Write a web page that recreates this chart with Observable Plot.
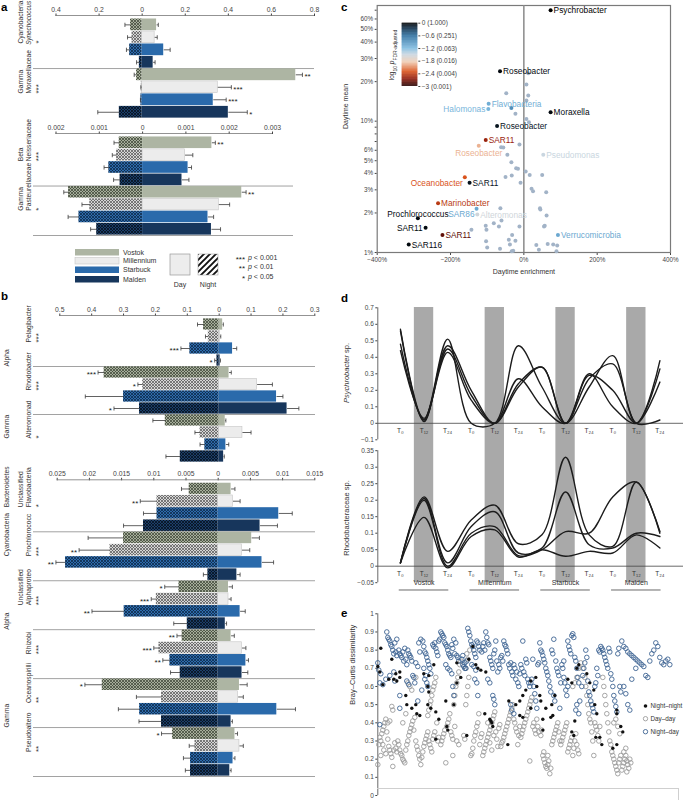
<!DOCTYPE html>
<html>
<head>
<meta charset="utf-8">
<script src="https://cdn.jsdelivr.net/npm/d3@7"></script>
<script src="https://cdn.jsdelivr.net/npm/@observablehq/plot@0.6"></script>
<style>
  html, body { margin: 0; padding: 0; background: #fff; }
  #fig { position: relative; width: 685px; height: 800px; overflow: hidden;
         font-family: "Liberation Sans", Arial, Helvetica, sans-serif; color: #333; }
  .rot { position: absolute; transform: translate(-50%, -50%) rotate(-90deg); white-space: nowrap; color: #333; }
</style>
</head>
<body>
<div id="fig"></div>
<script>
// ---------------- DATA ----------------
const sites = ["Vostok", "Millennium", "Starbuck", "Malden"];

// Panel a (top: Synechococcus, Moraxellaceae; bottom: Neisseriaceae, Pasteurellaceae)
const aTopTaxa = ["Synechococcus", "Moraxellaceae"];
const aTopClass = ["Cyanobacteria", "Gamma"];
const aTopGroupSig = ["*", "***"];
const aTopDay = [[0.067, 0.058, 0.10, 0.051], [0.713, 0.351, 0.33, 0.40]];
const aTopDayErr = [[0.008, 0.012, 0.03, 0.009], [0.031, 0.063, 0.06, 0.088]];
const aTopNight = [[0.054, 0.047, 0.058, 0.013], [0.026, 0.004, 0.006, 0.106]];
const aTopNightErr = [[0.026, 0.021, 0.015, 0.013], [0.011, 0.002, 0.002, 0.10]];
const aTopDaySig = [["", "", "", ""], ["**", "***", "***", "*"]];
const aTopNightSig = [["", "", "", ""], ["", "", "", ""]];
const aTopTicks = [-0.4, -0.2, 0, 0.2, 0.4, 0.6, 0.8];

const aBotTaxa = ["Neisseriaceae", "Pasteurellaceae"];
const aBotClass = ["Beta", "Gamma"];
const aBotGroupSig = ["***", "*"];
const aBotDay = [[0.0016, 0.00098, 0.00105, 0.00091], [0.00229, 0.00176, 0.00151, 0.00159]];
const aBotDayErr = [[0.00008, 0.00018, 0.00008, 0.00016], [0.0001, 0.00025, 0.00013, 0.00021]];
const aBotNight = [[0.00054, 0.0006, 0.00078, 0.00052], [0.00171, 0.00122, 0.00147, 0.00106]];
const aBotNightErr = [[0.00012, 0.0001, 0.00011, 0.00015], [0.00011, 0.00018, 0.00025, 0.00014]];
const aBotDaySig = [["**", "", "", ""], ["**", "", "", ""]];
const aBotNightSig = [["", "", "", ""], ["", "", "", ""]];
const aBotTicks = [-0.002, -0.001, 0, 0.001, 0.002, 0.003];

// Panel b top
const bTopTaxa = ["Pelagibacter", "Rhodobacter", "Alteromonad"];
const bTopClass = ["Alpha", "Alpha", "Gamma"];
const bTopGroupSig = ["***", "***", "*"];
const bTopDay = [[0.011, 0.003, 0.042, 0.003], [0.031, 0.119, 0.18, 0.213], [0.019, 0.073, 0.021, 0.014]];
const bTopDayErr = [[0.002, 0.002, 0.013, 0.001], [0.007, 0.048, 0.02, 0.037], [0.002, 0.027, 0.009, 0.002]];
const bTopNight = [[0.049, 0.034, 0.092, 0.007], [0.361, 0.24, 0.30, 0.25], [0.169, 0.06, 0.045, 0.122]];
const bTopNightErr = [[0.019, 0.009, 0.028, 0.007], [0.019, 0.015, 0.12, 0.08], [0.039, 0.016, 0.015, 0.045]];
const bTopDaySig = [["", "", "", ""], ["", "", "", ""], ["", "", "", ""]];
const bTopNightSig = [["", "", "***", "*"], ["***", "*", "", "*"], ["", "", "", ""]];
const bTopTicks = [-0.5, -0.4, -0.3, -0.2, -0.1, 0, 0.1, 0.2, 0.3];

// Panel b bottom
const bBotLine1 = ["Unclassified", "", "Unclassified", "", "", ""];
const bBotTaxa = ["Flavobacteria", "Prochlorococc", "Alphaproteo", "Rhizobi", "Oceanospirilli", "Pseudoaltero"];
const bBotClass = ["Bacteroidetes", "Cyanobacteria", "Alpha", "Alpha", "Gamma", "Gamma"];
const bBotGroupSig = ["*", "***", "***", "***", "**", "**"];
const bBotDay = [[0.002, 0.0023, 0.0094, 0.0065], [0.0052, 0.0037, 0.0068, 0.0029], [0.0016, 0.0016, 0.0034, 0.0011],
                 [0.002, 0.0037, 0.0043, 0.0037], [0.0033, 0.0031, 0.0091, 0.002], [0.0026, 0.0033, 0.0023, 0.0018]];
const bBotDayErr = [[0.0006, 0.0011, 0.0021, 0.0027], [0.0012, 0.0012, 0.0018, 0.0005], [0.0006, 0.0004, 0.0008, 0.0002],
                    [0.0005, 0.0006, 0.0004, 0.0009], [0.0012, 0.0008, 0.0029, 0.0002], [0.0004, 0.0006, 0.0003, 0.0002]];
const bBotNight = [[0.0045, 0.0095, 0.0095, 0.0116], [0.0147, 0.0168, 0.0237, 0.0016], [0.0061, 0.0096, 0.0146, 0.0048],
                   [0.0056, 0.0092, 0.0075, 0.0059], [0.018, 0.0088, 0.0122, 0.0088], [0.0071, 0.0036, 0.0043, 0.0043]];
const bBotNightErr = [[0.0012, 0.0026, 0.0021, 0.0031], [0.0055, 0.0048, 0.0015, 0.0007], [0.0022, 0.0008, 0.005, 0.0021],
                      [0.0008, 0.0008, 0.0011, 0.0015], [0.0027, 0.0039, 0.0033, 0.0035], [0.0017, 0.0009, 0.0011, 0.0008]];
const bBotDaySig = [["", "", "", ""], ["", "", "", ""], ["", "", "", ""], ["", "", "", ""], ["", "", "", ""], ["", "", "", ""]];
const bBotNightSig = [["", "**", "", ""], ["", "**", "**", ""], ["*", "***", "**", ""], ["**", "***", "**", ""], ["*", "", "", ""], ["*", "", "", ""]];
const bBotTicks = [-0.025, -0.02, -0.015, -0.01, -0.005, 0, 0.005, 0.01, 0.015];

// Panel c
const cNames = ["Psychrobacter", "Roseobacter", "Flavobacteria", "Halomonas", "Moraxella", "Roseobacter", "SAR11", "Roseobacter",
  "Pseudomonas", "Oceanobacter", "SAR11", "Marinobacter", "SAR86", "Prochlorococcus", "Alteromonas", "SAR11", "SAR11", "SAR116", "Verrucomicrobia", ""];
const cEnrich = [73, -65, -96, -97, 73, -73, -104, -123, 53, -161, -148, -234, -129, -289, -127, -268, -222, -314, 93, -34];
const cMean = [70, 24, 13.6, 12.4, 11.7, 9.2, 7.2, 6.5, 5.55, 3.74, 3.4, 2.37, 2.15, 1.82, 1.95, 1.54, 1.36, 1.15, 1.36, 12.6];
const cLogP = [0, -0.05, -1.1, -1.15, -0.05, -0.1, -2.6, -1.95, -1.5, -2.3, -0.1, -2.45, -1.05, -0.05, -1.55, -0.05, -2.8, -0.05, -1.05, -0.85];
const cPlace = ["right", "right", "right", "left", "right", "right", "right", "below", "right", "leftbelow", "right", "right",
  "leftbelow", "above", "right", "left", "right", "right", "right", "none"];
const cOther = [[-48, 16.3], [7, 19], [12, 15.7], [7, 14.4], [-23, 11.4], [14, 9.8], [7, 10.4], [-12, 6.65], [-62, 6.34], [-56, 6.3],
  [-45, 5.55], [-34, 4.87], [-21, 4.39], [-16, 4.35], [5, 4.14], [16, 3.9], [50, 3.9], [-50, 3.75], [-33, 3.85], [-9, 3.4], [21, 3.06],
  [25, 2.93], [61, 2.88], [-64, 2.17], [44, 2.17], [45, 2.13], [-61, 1.75], [-82, 1.67], [-104, 1.6], [-68, 1.58], [-102, 1.49],
  [-143, 1.49], [-12, 1.58], [62, 1.91], [55, 1.58], [57, 1.6], [-32, 1.36], [-103, 1.22], [-41, 1.25], [-23, 1.23], [-38, 1.15],
  [-100, 1.09], [-65, 1.07], [-33, 1.02], [-29, 1.03], [34, 1.14], [41, 1.05], [65, 1.16], [80, 1.15], [91, 1.13], [89, 1.02], [12, 23.2]];
const cXTicks = [-400, -200, 0, 200, 400];
const cYTicks = [1, 2, 3, 4, 5, 6, 7, 8, 9, 10, 20, 30, 40, 50, 60, 70];
const cColorDomain = [-3, -2.65, -2.3, -1.85, -1.5, -1.2, -0.6, -0.25, 0];
const cColorRange = ["#220000", "#8e1b0c", "#d9531c", "#f0cdb4", "#c9d6e0", "#7fbbe0", "#2d6e9e", "#0f2f4a", "#000000"];
const cbTicks = [0, -0.6, -1.2, -1.8, -2.4, -3];

// Panel d
const dTimes = ["T₀", "T₁₂", "T₂₄", "T₀", "T₁₂", "T₂₄", "T₀", "T₁₂", "T₂₄", "T₀", "T₁₂", "T₂₄"];
const dPsychro = [
  [0.57, 0.02, 0.51, 0.00, 0.00, 0.47, 0.22, 0.00, 0.30, 0.10, 0.00, 0.38],
  [0.56, 0.01, 0.47, 0.20, 0.00, 0.27, 0.10, 0.00, 0.29, 0.20, 0.00, 0.33],
  [0.48, 0.02, 0.45, 0.17, 0.00, 0.24, 0.34, 0.00, 0.27, 0.36, 0.00, 0.25],
  [0.44, 0.03, 0.43, 0.14, 0.00, 0.22, 0.34, 0.00, 0.22, 0.41, 0.00, 0.02]];
const dRhodo = [
  [0.01, 0.21, 0.045, 0.14, 0.185, 0.068, 0.095, 0.33, 0.095, 0.06, 0.255, 0.105],
  [0.01, 0.205, 0.01, 0.12, 0.165, 0.04, 0.055, 0.225, 0.065, 0.055, 0.10, 0.09],
  [0.01, 0.20, 0.00, 0.10, 0.12, 0.032, 0.05, 0.105, 0.10, 0.21, 0.255, 0.10],
  [0.01, 0.148, -0.005, 0.09, 0.11, 0.028, 0.05, 0.03, 0.045, 0.04, 0.095, 0.055]];
const dUpTicks = [-0.1, 0, 0.1, 0.2, 0.3, 0.4, 0.5, 0.6, 0.7];
const dLoTicks = [-0.05, 0, 0.05, 0.1, 0.15, 0.2, 0.25, 0.3, 0.35];

// Panel e  [comparison index, Bray–Curtis dissimilarity]
const eNightDay = [
[0,0.73],[1,0.69],[2,0.62],[3,0.67],[2,0.39],[5,0.61],[8,0.64],[9,0.9],[10,0.87],[11,0.86],[12,0.85],[13,0.83],[14,0.82],[15,0.8],[16,0.78],[17,0.84],[18,0.79],[19,0.77],[16,0.68],[12,0.66],[17,0.63],[19,0.86],
[21,0.8],[22,0.78],[23,0.77],[24,0.76],[25,0.79],[26,0.74],[27,0.81],[28,0.75],[29,0.72],[30,0.8],[31,0.78],[32,0.77],[33,0.76],[34,0.74],[22,0.55],[22,0.48],[29,0.63],[31,0.61],[36,0.65],[38,0.73],[40,0.71],[42,0.79],[41,0.84],[43,0.86],[35,0.66],[37,0.62],
[45,0.85],[46,0.82],[47,0.79],[48,0.78],[49,0.76],[50,0.74],[51,0.72],[52,0.7],[53,0.67],[48,0.66],[47,0.64],[49,0.62],[50,0.6],[55,0.83],[56,0.82],[57,0.84],[58,0.81],[59,0.79],[60,0.77],[61,0.85],[62,0.86],[46,0.7],[44,0.58],[40,0.52],
[63,0.9],[64,0.89],[65,0.88],[66,0.87],[67,0.84],[68,0.83],[69,0.82],[70,0.8],[71,0.78],[72,0.77],[73,0.76],[74,0.83],[75,0.81],[76,0.86],[77,0.78],[78,0.84],[79,0.77],[80,0.76],[68,0.72],[70,0.7],[72,0.69],[74,0.67],[75,0.6],[76,0.55],[81,0.74],
[84,0.75],[85,0.77],[86,0.71],[87,0.73],[88,0.7],[89,0.74],[90,0.92],[91,0.9],[92,0.88],[93,0.85],[94,0.83],[95,0.82],[96,0.8],[97,0.78],[98,0.76],[99,0.85],[100,0.84],[101,0.82],[102,0.8],[94,0.72],[96,0.71],[98,0.69],[97,0.64],[99,0.62],[100,0.55],[85,0.72],[87,0.7],
[104,0.79],[105,0.82],[106,0.84],[107,0.8],[108,0.9],[109,0.87],[110,0.84],[111,0.83],[112,0.76],[113,0.74],[114,0.72],[115,0.7],[116,0.78],[117,0.8],[118,0.85],[119,0.74],[120,0.68],[121,0.72],[122,0.7],[110,0.64],[112,0.62],[115,0.55],[116,0.53],[117,0.5],
[123,0.76],[124,0.77],[125,0.74],[126,0.85],[127,0.83],[128,0.82],[129,0.8],[130,0.78],[131,0.72],[132,0.7],[133,0.73],[134,0.68],[135,0.66],[136,0.72],[137,0.7],[138,0.64],[139,0.68],[140,0.62],[141,0.6],[133,0.5],[134,0.47],[136,0.45],[142,0.67],
[143,0.72],[144,0.7],[145,0.85],[146,0.68],[147,0.66],[148,0.75],[149,0.73],[150,0.64],[151,0.62],[152,0.6],[153,0.62],[154,0.64],[155,0.75],[156,0.6],[157,0.56],[158,0.52],[159,0.48],[160,0.72],[161,0.73],[162,0.84],[163,0.8],
[164,0.79],[165,0.77],[166,0.75],[167,0.73],[168,0.7],[169,0.68],[170,0.66],[171,0.63],[172,0.6],[173,0.57],[174,0.8],[175,0.78],[176,0.55],[177,0.52],[176,0.86],[178,0.74],[179,0.7],[180,0.68],[181,0.66],[182,0.48],[183,0.62],
[184,0.72],[185,0.7],[186,0.65],[187,0.62],[188,0.58],[189,0.55],[190,0.85],[191,0.82],[192,0.8],[193,0.78],[194,0.88],[195,0.89],[196,0.87],[197,0.76],[198,0.74],[199,0.7],[200,0.65],[201,0.62],[202,0.52],[199,0.5],[198,0.47],[201,0.45],[190,0.6],[186,0.74],
[204,0.6],[205,0.66],[206,0.7],[207,0.73],[208,0.8],[209,0.76],[210,0.63],[211,0.57],[212,0.55],[213,0.52],[214,0.5],[215,0.48],[216,0.46],[217,0.6],[218,0.62],[219,0.7],[220,0.66],[221,0.8],[222,0.79],
[223,0.82],[224,0.81],[225,0.8],[226,0.78],[227,0.76],[228,0.74],[229,0.72],[230,0.7],[231,0.81],[232,0.79],[233,0.67],[234,0.64],[235,0.6],[236,0.55],[237,0.52],[238,0.49],[239,0.46],[240,0.78],[241,0.81],[242,0.6],[243,0.57],
[244,0.85],[246,0.82],[248,0.81],[250,0.79],[252,0.78],[254,0.77],[256,0.76],[258,0.75],[260,0.74],[262,0.73],[264,0.72],[266,0.71],[268,0.66],[270,0.65],[272,0.74],[274,0.78],[276,0.8],[278,0.84],[280,0.82],[282,0.76],[284,0.73],[286,0.72],[288,0.74],[290,0.75],[292,0.72],[246,0.6],[248,0.56],[250,0.5],[252,0.47],[254,0.64],[258,0.7]];
const eDayDay = [
[0,0.17],[1,0.28],[2,0.32],[3,0.3],[4,0.34],[5,0.36],[6,0.38],[7,0.4],[8,0.42],[9,0.35],[10,0.31],[11,0.27],[12,0.25],[13,0.23],[14,0.21],[15,0.16],[14,0.49],[15,0.47],[16,0.25],[17,0.29],[18,0.26],[19,0.24],[6,0.25],[8,0.23],[10,0.4],[12,0.41],[3,0.22],[5,0.28],
[20,0.3],[21,0.28],[22,0.25],[23,0.23],[24,0.22],[25,0.2],[26,0.19],[27,0.18],[28,0.25],[29,0.28],[30,0.3],[31,0.33],[32,0.35],[33,0.37],[34,0.39],[35,0.41],[36,0.36],[37,0.43],[38,0.3],[39,0.27],[40,0.25],[41,0.22],[42,0.2],[30,0.62],[32,0.6],[34,0.58],[28,0.45],[25,0.4],[38,0.65],
[43,0.17],[44,0.21],[45,0.24],[46,0.27],[47,0.29],[48,0.31],[49,0.33],[50,0.35],[51,0.3],[52,0.28],[53,0.26],[54,0.24],[55,0.31],[56,0.33],[57,0.35],[50,0.44],[51,0.47],[52,0.5],[53,0.52],[54,0.55],[55,0.58],[56,0.6],[57,0.62],[58,0.65],[60,0.3],[61,0.32],[59,0.4],
[68,0.18],[63,0.28],[64,0.3],[65,0.32],[66,0.34],[67,0.36],[69,0.38],[70,0.4],[71,0.42],[72,0.45],[73,0.35],[74,0.33],[75,0.31],[76,0.5],[77,0.55],[78,0.6],[79,0.62],[80,0.65],[81,0.68],[82,0.72],[83,0.74],[79,0.3],[81,0.28],[77,0.38],[75,0.22],
[93,0.22],[94,0.23],[95,0.26],[96,0.3],[97,0.33],[98,0.35],[99,0.38],[100,0.4],[101,0.45],[88,0.5],[89,0.55],[90,0.6],[91,0.65],[88,0.7],[90,0.75],[89,0.78],[92,0.8],[86,0.33],[87,0.31],[102,0.28],[103,0.32],[104,0.34],
[105,0.22],[106,0.24],[107,0.26],[108,0.28],[109,0.3],[110,0.32],[111,0.34],[112,0.36],[113,0.38],[114,0.4],[115,0.42],[116,0.44],[117,0.46],[118,0.35],[119,0.31],[120,0.27],[121,0.37],[122,0.39],[110,0.4],[112,0.29],[114,0.25],[116,0.33],
[123,0.27],[124,0.29],[125,0.3],[126,0.32],[127,0.34],[128,0.36],[129,0.38],[130,0.4],[131,0.42],[132,0.44],[133,0.46],[134,0.48],[135,0.5],[136,0.42],[137,0.4],[138,0.37],[139,0.35],[140,0.28],[141,0.33],[142,0.38],
[143,0.32],[144,0.34],[145,0.36],[146,0.38],[147,0.4],[148,0.42],[149,0.44],[150,0.46],[151,0.48],[152,0.5],[153,0.52],[154,0.54],[152,0.19],[155,0.38],[156,0.4],[157,0.36],[158,0.34],[159,0.42],[160,0.38],[161,0.35],
[163,0.33],[164,0.36],[165,0.22],[166,0.2],[167,0.18],[168,0.16],[169,0.15],[170,0.17],[171,0.19],[172,0.12],[173,0.15],[174,0.28],[175,0.3],[176,0.32],[177,0.34],[178,0.36],[179,0.38],[180,0.4],[181,0.35],[182,0.3],[166,0.24],[170,0.22],
[183,0.28],[184,0.3],[185,0.32],[186,0.34],[187,0.36],[188,0.38],[189,0.4],[190,0.24],[191,0.26],[192,0.28],[193,0.3],[194,0.32],[195,0.22],[196,0.26],[197,0.3],[198,0.34],[199,0.28],[200,0.25],[201,0.23],[195,0.6],[197,0.62],[199,0.65],[201,0.7],
[203,0.73],[205,0.7],[207,0.65],[208,0.6],[209,0.55],[210,0.5],[211,0.45],[212,0.42],[213,0.4],[214,0.35],[215,0.3],[216,0.22],[217,0.4],[218,0.38],[219,0.36],[220,0.33],[221,0.3],[222,0.38],
[225,0.65],[226,0.6],[227,0.55],[228,0.5],[229,0.45],[230,0.4],[231,0.35],[232,0.3],[233,0.28],[234,0.24],[235,0.22],[236,0.2],[237,0.18],[238,0.16],[239,0.14],[240,0.12],[241,0.18],[242,0.2],[236,0.4],[238,0.42],[240,0.38],[242,0.34],[243,0.22],
[244,0.14],[245,0.16],[246,0.18],[247,0.2],[248,0.22],[249,0.19],[250,0.17],[251,0.15],[249,0.13],[252,0.2],[253,0.18],[246,0.24],[248,0.26]];
const eNightNight = [
[0,0.71],[2,0.68],[5,0.61],[3,0.81],[11,0.64],[14,0.75],[16,0.64],[18,0.67],[19,0.63],[22,0.65],[22,0.68],[28,0.55],[29,0.5],[34,0.48],[39,0.45],[38,0.5],[42,0.44],
[46,0.67],[50,0.6],[51,0.66],[51,0.57],[50,0.5],[53,0.48],[56,0.72],[58,0.46],[61,0.42],[58,0.31],[68,0.52],[69,0.38],[70,0.36],[76,0.5],[79,0.62],[83,0.65],[79,0.73],
[89,0.33],[91,0.75],[95,0.82],[98,0.72],[100,0.7],[103,0.69],[108,0.68],[107,0.45],[112,0.42],[113,0.41],[114,0.4],[115,0.38],[130,0.28],[131,0.52],[138,0.5],[142,0.52],
[145,0.55],[148,0.58],[142,0.44],[145,0.43],[153,0.63],[153,0.48],[158,0.65],[159,0.6],[162,0.55],[163,0.52],[165,0.42],[165,0.36],[168,0.48],[173,0.43],[175,0.44],[174,0.5],
[177,0.55],[190,0.64],[194,0.62],[197,0.41],[199,0.7],[201,0.72],[194,0.35],[196,0.33],[209,0.67],[212,0.62],[216,0.58],[217,0.5],[219,0.45],[218,0.32],[224,0.28],[222,0.32],
[239,0.47],[239,0.45],[245,0.35],[243,0.38],[235,0.26],[239,0.28]];
const eTicks = [0, 0.1, 0.2, 0.3, 0.4, 0.5, 0.6, 0.7, 0.8, 0.9, 1];
const eSeries = ["Night–night", "Day–day", "Night–day"];

// ---------------- STYLES ----------------
const FONT = "Liberation Sans, Arial, Helvetica, sans-serif";
const dayColors = ["#adb5a3", "#ececec", "#2a6aab", "#17365c"];
const dayStroke = ["none", "#c6c6c6", "none", "none"];
const nightLight = ["#a6ae9b", "#d6d6d6", "#2e6bab", "#1c3e68"];
const nightDark = ["#3e4537", "#585858", "#0b2746", "#040d19"];

const fig = document.getElementById("fig");
function put(el, left, top) {
  el.style.position = "absolute"; el.style.left = left + "px"; el.style.top = top + "px";
  fig.appendChild(el); return el;
}
function baseStyle(size) {
  return {background: "transparent", overflow: "visible", fontFamily: FONT, fontSize: size + "px", color: "#444"};
}
function rotLabel(html, cx, cy, size) {
  const d = document.createElement("div");
  d.className = "rot"; d.innerHTML = html;
  d.style.fontSize = size + "px";
  fig.appendChild(d);
  d.style.left = cx + "px"; d.style.top = cy + "px";
  return d;
}
const fmtAbs = d => { const a = Math.abs(d); return a === 0 ? "0" : String(+a.toPrecision(6)); };
const fmtSigned = d => d === 0 ? "0" : (d < 0 ? "−" : "") + String(+Math.abs(d).toPrecision(6));

// hatch patterns
const defs = d3.select("body").insert("svg", ":first-child")
  .attr("width", 0).attr("height", 0).style("position", "absolute").append("defs");
sites.forEach((s, i) => {
  const p = defs.append("pattern").attr("id", "hatch" + i).attr("patternUnits", "userSpaceOnUse")
    .attr("width", 3).attr("height", 3);
  p.append("rect").attr("width", 3).attr("height", 3).attr("fill", nightLight[i]);
  p.append("path").attr("d", "M0,0L3,3M-1,2L1,4M2,-1L4,1M0,3L3,0M-1,1L1,-1M2,4L4,2")
    .attr("stroke", nightDark[i]).attr("stroke-width", 0.75);
});
{
  const p = defs.append("pattern").attr("id", "hatchBold").attr("patternUnits", "userSpaceOnUse")
    .attr("width", 6).attr("height", 6);
  p.append("rect").attr("width", 6).attr("height", 6).attr("fill", "#fff");
  p.append("path").attr("d", "M-2,2L2,-2M0,6L6,0M4,8L8,4").attr("stroke", "#111").attr("stroke-width", 1.9);
}

// ---------------- BAR SECTIONS (a, b) ----------------
const Y_TOP = -0.25;
const FRAME_L = 33;
function barSection(o) {
  const nT = o.taxa.length, nRows = nT * 4;
  const rows = [];
  o.taxa.forEach((t, ti) => sites.forEach((s, si) => rows.push({
    ti, si, row: ti * 4 + si,
    day: o.day[ti][si], dayEnd: o.day[ti][si] + o.dayErr[ti][si],
    night: -o.night[ti][si], nightEnd: -(o.night[ti][si] + o.nightErr[ti][si]),
    dSig: o.daySig[ti][si], nSig: o.nightSig[ti][si]
  })));
  const mid = r => r.row + 0.5;
  const seps = d3.range(1, nT).map(i => i * 4);
  if (o.bottomLine) seps.push(nRows);
  const groups = o.taxa.map((t, i) => ({i, y: i * 4 + 2}));
  const marks = [
    Plot.ruleY(seps, {stroke: "#a2a2a2", strokeWidth: 1}),
    Plot.ruleY([Y_TOP], {x1: o.ticks[0], x2: o.ticks[o.ticks.length - 1], stroke: "#777", strokeWidth: 0.8})
  ];
  sites.forEach((s, si) => {
    const sub = rows.filter(r => r.si === si);
    marks.push(Plot.rect(sub, {x1: "night", x2: 0, y1: r => r.row + 0.03, y2: r => r.row + 0.97, fill: `url(#hatch${si})`}));
    marks.push(Plot.rect(sub, {x1: 0, x2: "day", y1: r => r.row + 0.03, y2: r => r.row + 0.97,
      fill: dayColors[si], stroke: dayStroke[si], strokeWidth: 0.6}));
  });
  const eb = {stroke: "#3a3a3a", strokeWidth: 0.8};
  marks.push(Plot.link(rows, {x1: "day", x2: "dayEnd", y1: mid, y2: mid, ...eb}));
  marks.push(Plot.link(rows, {x1: "dayEnd", x2: "dayEnd", y1: r => mid(r) - 0.17, y2: r => mid(r) + 0.17, ...eb}));
  marks.push(Plot.link(rows, {x1: "night", x2: "nightEnd", y1: mid, y2: mid, ...eb}));
  marks.push(Plot.link(rows, {x1: "nightEnd", x2: "nightEnd", y1: r => mid(r) - 0.17, y2: r => mid(r) + 0.17, ...eb}));
  marks.push(Plot.text(rows.filter(r => r.dSig), {x: "dayEnd", y: mid, text: "dSig", textAnchor: "start", dx: 2, dy: 2, fontSize: 8, fill: "#222"}));
  marks.push(Plot.text(rows.filter(r => r.nSig), {x: "nightEnd", y: mid, text: "nSig", textAnchor: "end", dx: -2, dy: 2, fontSize: 8, fill: "#222"}));
  // left labels
  const lab = {frameAnchor: "left", rotate: -90, fontSize: 6.7, fill: "#333"};
  marks.push(Plot.text(groups.filter(g => o.line1[g.i]), {y: "y", text: g => o.line1[g.i], dx: 20 - FRAME_L, ...lab}));
  marks.push(Plot.text(groups.filter(g => !o.italic[g.i]), {y: "y", text: g => o.taxa[g.i], dx: 28.5 - FRAME_L, ...lab}));
  marks.push(Plot.text(groups.filter(g => o.italic[g.i]), {y: g => g.y + 0.1, text: g => o.taxa[g.i], dx: 28.5 - FRAME_L, fontStyle: "italic", ...lab, fontSize: 6.3}));
  marks.push(Plot.text(groups, {y: "y", text: g => o.groupSig[g.i], dx: 38 - FRAME_L, ...lab, fontSize: 8}));
  if (o.phyla) {
    const spans = [];
    o.phyla.forEach((p, i) => {
      if (spans.length && spans[spans.length - 1].name === p) spans[spans.length - 1].to = i;
      else spans.push({name: p, from: i, to: i});
    });
    marks.push(Plot.text(spans, {y: d => (d.from * 4 + (d.to + 1) * 4) / 2, text: "name", dx: 6 - FRAME_L, ...lab}));
  }
  const height = o.barsBottom - o.svgTop + 4;
  const plot = Plot.plot({
    width: 340, height,
    marginTop: o.axisY - o.svgTop, marginBottom: 4, marginLeft: FRAME_L, marginRight: 340 - o.frameRight,
    x: {domain: [o.ticks[0], o.ticks[o.ticks.length - 1]], range: [o.rangeL, o.rangeR], axis: "top",
        ticks: o.ticks, tickFormat: fmtAbs, tickSize: 2.5, tickPadding: 1.5, label: null},
    y: {domain: [Y_TOP, nRows], reverse: true, axis: null},
    style: baseStyle(6.8),
    marks
  });
  put(plot, 0, o.svgTop);
}

barSection({taxa: aTopTaxa, line1: aTopClass, italic: [true, false], groupSig: aTopGroupSig,
  day: aTopDay, dayErr: aTopDayErr, night: aTopNight, nightErr: aTopNightErr, daySig: aTopDaySig, nightSig: aTopNightSig,
  ticks: aTopTicks, svgTop: 0, axisY: 15, barsBottom: 118, frameRight: 314, rangeL: 55.5, rangeR: 314, bottomLine: false});
barSection({taxa: aBotTaxa, line1: aBotClass, italic: [false, false], groupSig: aBotGroupSig,
  day: aBotDay, dayErr: aBotDayErr, night: aBotNight, nightErr: aBotNightErr, daySig: aBotDaySig, nightSig: aBotNightSig,
  ticks: aBotTicks, svgTop: 118, axisY: 133, barsBottom: 235, frameRight: 293, rangeL: 55.5, rangeR: 272, bottomLine: true});
barSection({taxa: bTopTaxa, line1: ["", "", ""], phyla: bTopClass, italic: [false, false, false], groupSig: bTopGroupSig,
  day: bTopDay, dayErr: bTopDayErr, night: bTopNight, nightErr: bTopNightErr, daySig: bTopDaySig, nightSig: bTopNightSig,
  ticks: bTopTicks, svgTop: 292, axisY: 315, barsBottom: 462, frameRight: 315, rangeL: 59.3, rangeR: 314.3, bottomLine: false});
barSection({taxa: bBotTaxa, line1: bBotLine1, phyla: bBotClass, italic: [false, false, false, false, false, false], groupSig: bBotGroupSig,
  day: bBotDay, dayErr: bBotDayErr, night: bBotNight, nightErr: bBotNightErr, daySig: bBotDaySig, nightSig: bBotNightSig,
  ticks: bBotTicks, svgTop: 462, axisY: 479.3, barsBottom: 776, frameRight: 315, rangeL: 56.7, rangeR: 314.3, bottomLine: true});

// legend for panel a
{
  const svg = d3.create("svg").attr("width", 240).attr("height", 50)
    .style("overflow", "visible").style("font-family", FONT).style("font-size", "7px");
  const sy = [7, 15.5, 24.5, 34];
  sites.forEach((s, i) => {
    svg.append("rect").attr("x", 15).attr("y", sy[i]).attr("width", 44).attr("height", 6.5)
      .attr("fill", dayColors[i]).attr("stroke", i === 1 ? "#c6c6c6" : "none").attr("stroke-width", 0.6);
    svg.append("text").attr("x", 63).attr("y", sy[i] + 5.5).attr("fill", "#333").text(s);
  });
  svg.append("rect").attr("x", 110).attr("y", 12).attr("width", 20).attr("height", 21)
    .attr("fill", "#ededed").attr("stroke", "#999").attr("stroke-width", 0.7);
  svg.append("text").attr("x", 120).attr("y", 45).attr("text-anchor", "middle").attr("fill", "#333").text("Day");
  svg.append("rect").attr("x", 138).attr("y", 12).attr("width", 20).attr("height", 21)
    .attr("fill", "url(#hatchBold)").attr("stroke", "#999").attr("stroke-width", 0.5);
  svg.append("text").attr("x", 148).attr("y", 45).attr("text-anchor", "middle").attr("fill", "#333").text("Night");
  const stars = ["***", "**", "*"], pv = ["0.001", "0.01", "0.05"], yy = [17.5, 27, 36.5];
  stars.forEach((st, i) => {
    svg.append("text").attr("x", 185).attr("y", yy[i] + 2).attr("text-anchor", "end").attr("font-size", 8).attr("fill", "#222").text(st);
    const t = svg.append("text").attr("x", 188).attr("y", yy[i]).attr("fill", "#333");
    t.append("tspan").attr("font-style", "italic").text("p");
    t.append("tspan").text(" < " + pv[i]);
  });
  put(svg.node(), 60, 242);
}

// ---------------- PANEL c ----------------
const colorOpts = {type: "linear", domain: cColorDomain, range: cColorRange, interpolate: "rgb"};
{
  const lab = cNames.map((n, i) => ({name: n, x: cEnrich[i], y: cMean[i], p: cLogP[i], place: cPlace[i]}));
  const placeOpts = {
    right: {textAnchor: "start", dx: 3, dy: 0.5},
    left: {textAnchor: "end", dx: -3, dy: 0.5},
    below: {textAnchor: "middle", dx: 0, dy: 8},
    above: {textAnchor: "middle", dx: 0, dy: -4},
    leftbelow: {textAnchor: "end", dx: -2, dy: 6}
  };
  const marks = [
    Plot.frame({stroke: "#7a7a7a", strokeWidth: 1.2}),
    Plot.ruleX([0], {stroke: "#8a8a8a", strokeWidth: 1.5}),
    Plot.dot(cOther, {x: d => d[0], y: d => d[1], r: 2, fill: "#a2b3c7", stroke: "none"}),
    Plot.dot(lab, {x: "x", y: "y", r: 2, fill: "p", stroke: "none"})
  ];
  Object.entries(placeOpts).forEach(([k, po]) => {
    marks.push(Plot.text(lab.filter(d => d.place === k), {x: "x", y: "y", text: "name", fill: "p", fontSize: 8.3, ...po}));
  });
  marks.push(Plot.text(["Daytime mean"], {text: d => d, frameAnchor: "left", dx: -31, rotate: -90, fontSize: 7, fill: "#333"}));
  marks.push(Plot.text(["Daytime enrichment"], {text: d => d, frameAnchor: "bottom", dy: 21, fontSize: 7, fill: "#333"}));
  const plot = Plot.plot({
    width: 345, height: 290, marginLeft: 36.7, marginRight: 15, marginTop: 5, marginBottom: 38,
    x: {domain: [-400, 400], ticks: cXTicks, tickFormat: d => (d < 0 ? "−" : "") + Math.abs(d) + "%", tickSize: 3, tickPadding: 2, label: null},
    y: {type: "log", domain: [1, 76], ticks: cYTicks, tickFormat: d => d + "%", tickSize: 2, tickPadding: 2, label: null},
    color: colorOpts,
    style: baseStyle(6.3),
    marks
  });
  put(plot, 340, 0);
  // colour bar
  const cb = Plot.plot({
    width: 80, height: 75, marginLeft: 6.7, marginRight: 57.7, marginTop: 4.7, marginBottom: 7,
    x: {domain: [0, 1], axis: null},
    y: {domain: [-3, 0], axis: "right", ticks: cbTicks, tickSize: 2, tickPadding: 2, label: null,
        tickFormat: d => (d === 0 ? "0" : "−" + Math.abs(d)) + " (" + Math.pow(10, d).toFixed(3) + ")"},
    color: colorOpts,
    style: baseStyle(6.5),
    marks: [Plot.rect(d3.range(-3, 0, 0.02), {x1: 0, x2: 1, y1: d => d, y2: d => Math.min(0, d + 0.03), fill: d => d + 0.01})]
  });
  put(cb, 395, 18);
  rotLabel("log<sub style='font-size:5px'>10</sub> <i>p</i><sub style='font-size:5px'>FDR-adjusted</sub>", 393, 55, 6.5);
}

// ---------------- PANEL d ----------------
const D_XDOM = [-0.96, 12.0];
{
  const bg = Plot.plot({
    width: 345, height: 310, marginLeft: 37.3, marginRight: 2, marginTop: 17, marginBottom: 18,
    x: {domain: D_XDOM, axis: null}, y: {axis: null},
    style: baseStyle(7),
    marks: [Plot.rect(d3.range(sites.length), {x1: k => 3 * k + 1 - 0.41, x2: k => 3 * k + 1 + 0.41, fill: "#a9a9a9"})]
  });
  put(bg, 340, 290);

  const flat = arr => arr.flatMap((c, k) => c.map((v, i) => ({k, i, v})));
  const common = {width: 345, marginLeft: 37.3, marginRight: 2, x: {domain: D_XDOM, axis: null}, style: baseStyle(6.5)};
  const up = Plot.plot({
    ...common, height: 150, marginTop: 17.3, marginBottom: 0.7,
    y: {domain: [dUpTicks[0], dUpTicks[dUpTicks.length - 1]], ticks: dUpTicks, tickFormat: fmtSigned, tickSize: 2, tickPadding: 2, label: null},
    marks: [
      Plot.ruleX([D_XDOM[0]], {y1: dUpTicks[0], y2: dUpTicks[dUpTicks.length - 1], stroke: "#444", strokeWidth: 0.8}),
      Plot.ruleY([0], {stroke: "#444", strokeWidth: 0.8}),
      Plot.text(dTimes, {x: (d, i) => i, y: 0, dy: 8, text: d => d, fill: "#333"}),
      Plot.line(flat(dPsychro), {x: "i", y: "v", z: "k", curve: "catmull-rom", stroke: "#1c1c1c", strokeWidth: 1.4})
    ]
  });
  put(up, 340, 290);

  const yMin = dLoTicks[0];
  const lo = Plot.plot({
    ...common, height: 170, marginTop: 10.2, marginBottom: 27.8,
    y: {domain: [yMin, dLoTicks[dLoTicks.length - 1]], ticks: dLoTicks, tickFormat: fmtSigned, tickSize: 2, tickPadding: 2, label: null},
    marks: [
      Plot.ruleX([D_XDOM[0]], {y1: yMin, y2: dLoTicks[dLoTicks.length - 1], stroke: "#444", strokeWidth: 0.8}),
      Plot.ruleY([0], {stroke: "#444", strokeWidth: 0.8}),
      Plot.text(dTimes, {x: (d, i) => i, y: 0, dy: 8, text: d => d, fill: "#333"}),
      Plot.line(flat(dRhodo), {x: "i", y: "v", z: "k", curve: "catmull-rom", stroke: "#1c1c1c", strokeWidth: 1.4}),
      Plot.text(sites, {x: (d, i) => 3 * i + 1, frameAnchor: "bottom", dy: 2.3, text: d => d, fontSize: 7, fill: "#333"}),
      Plot.ruleY(sites, {y: yMin, x1: (d, i) => 3 * i - 0.05, x2: (d, i) => 3 * i + 2.05, dy: 7.3, stroke: "#444", strokeWidth: 0.8})
    ]
  });
  put(lo, 340, 440);
  rotLabel("<i>Psychrobacter</i> sp.", 346, 373, 7.5);
  rotLabel("Rhodobacteraceae sp.", 346, 518, 7.5);
}

// ---------------- PANEL e ----------------
{
  const xy = {x: d => d[0], y: d => d[1]};
  const plot = Plot.plot({
    width: 345, height: 200, marginLeft: 37.3, marginRight: 6.7, marginTop: 13.3, marginBottom: 5,
    x: {domain: [0, 301], axis: null},
    y: {domain: [0, 1], ticks: eTicks, tickFormat: d => String(d), tickSize: 2, tickPadding: 2, label: null},
    style: baseStyle(6.5),
    marks: [
      Plot.ruleX([0], {y1: 0, y2: 1, stroke: "#444", strokeWidth: 0.8}),
      Plot.dot(eDayDay, {...xy, r: 2.3, stroke: "#9c9c9c", strokeWidth: 0.9, fill: "none"}),
      Plot.dot(eNightDay, {...xy, r: 2.3, stroke: "#3e6493", strokeWidth: 0.9, fill: "none"}),
      Plot.dot(eNightNight, {...xy, r: 1.7, fill: "#111", stroke: "none"}),
      Plot.text(["Bray–Curtis dissimilarity"], {text: d => d, frameAnchor: "left", dx: -25.3, rotate: -90, fontSize: 7.5, fill: "#333"})
    ]
  });
  put(plot, 340, 600);
  const box = document.createElement("div");
  box.style.cssText = "width:301px;height:30px;border-top:1px solid #cfcfcf;border-right:1px solid #cfcfcf;";
  put(box, 377, 788);
  // legend
  const svg = d3.create("svg").attr("width", 40).attr("height", 40)
    .style("overflow", "visible").style("font-family", FONT).style("font-size", "6.3px");
  const ly = [6, 18.7, 31.7];
  svg.append("circle").attr("cx", 2.5).attr("cy", ly[0]).attr("r", 1.8).attr("fill", "#111");
  svg.append("circle").attr("cx", 2.5).attr("cy", ly[1]).attr("r", 2.2).attr("fill", "none").attr("stroke", "#9c9c9c").attr("stroke-width", 0.9);
  svg.append("circle").attr("cx", 2.5).attr("cy", ly[2]).attr("r", 2.2).attr("fill", "none").attr("stroke", "#3e6493").attr("stroke-width", 0.9);
  eSeries.forEach((s, i) => svg.append("text").attr("x", 7.5).attr("y", ly[i] + 2.3).attr("fill", "#333").text(s));
  put(svg.node(), 643, 700);
}

// ---------------- PANEL LETTERS ----------------
{
  const svg = d3.create("svg").attr("width", 685).attr("height", 800)
    .style("font-family", FONT).style("font-weight", "bold").style("font-size", "11.5px").style("pointer-events", "none");
  [["a", 1, 10.5], ["b", 1, 300], ["c", 341, 10.5], ["d", 341, 302], ["e", 341, 617]].forEach(([t, x, y]) =>
    svg.append("text").attr("x", x).attr("y", y).attr("fill", "#000").text(t));
  put(svg.node(), 0, 0);
}
</script>
</body>
</html>
